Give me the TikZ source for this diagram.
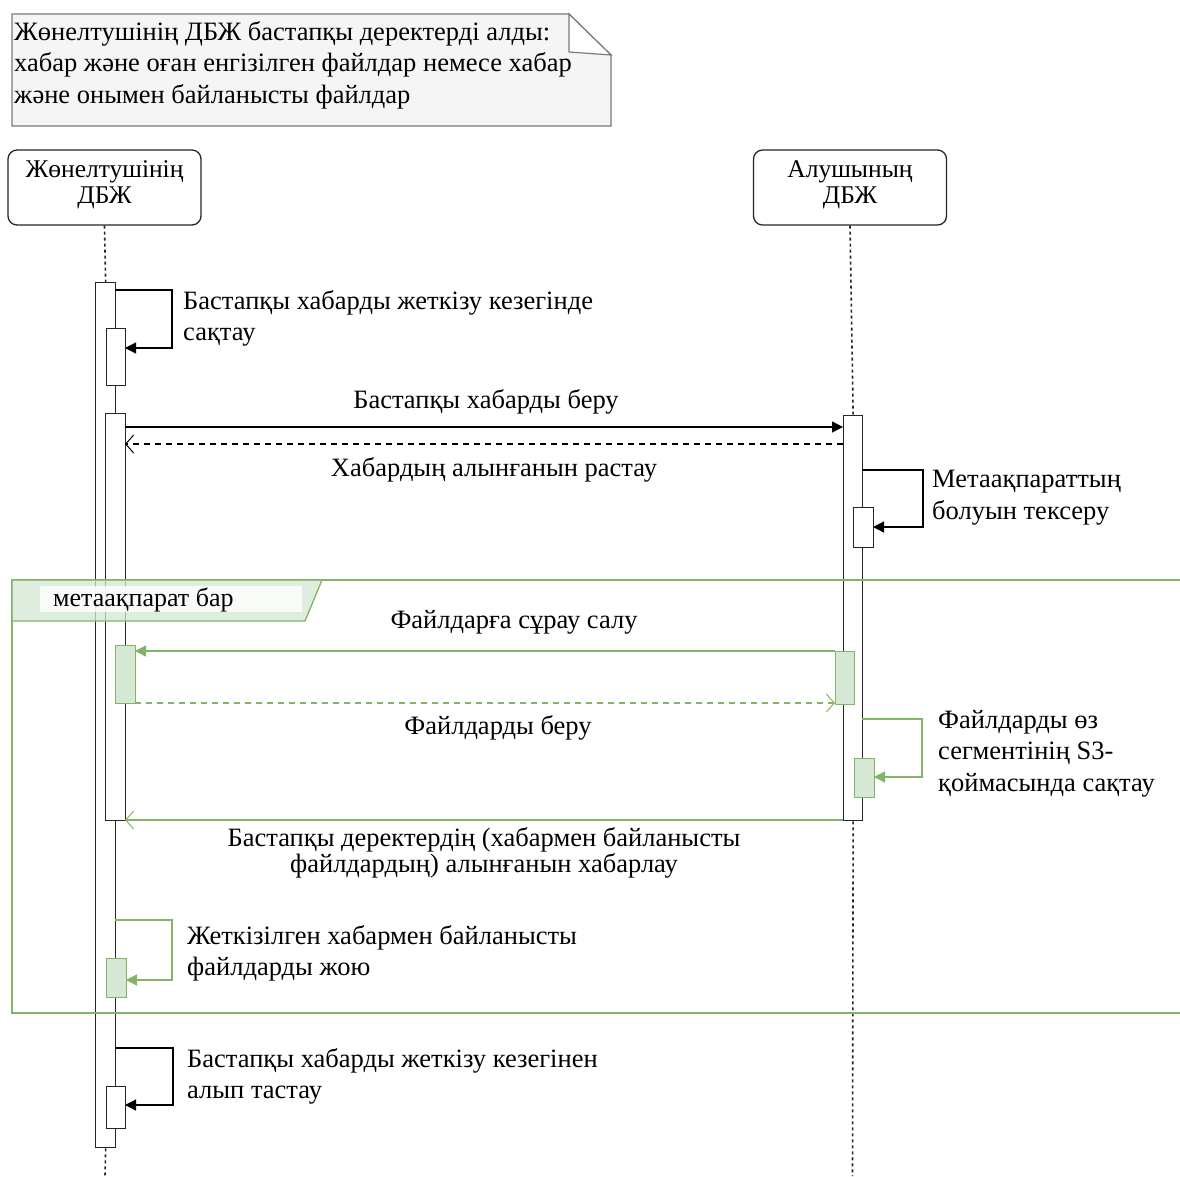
\documentclass[tikz,border=0pt]{standalone}
\usepackage{fontspec}
\setmainfont{Liberation Serif}
\usetikzlibrary{arrows.meta}
\definecolor{gstroke}{HTML}{82B366}
\definecolor{gfill}{HTML}{D5E8D4}
\definecolor{notefill}{HTML}{F5F5F5}
\definecolor{notedraw}{HTML}{7A7A7A}
\begin{document}
\begin{tikzpicture}[x=1pt,y=-1pt,
  txt/.style={font=\fontsize{26.5}{31.5}\selectfont, inner sep=0pt, align=left, anchor=north west},
  ctxt/.style={font=\fontsize{26.5}{26}\selectfont, inner sep=0pt, align=center},
  head/.style={draw=black!85, rounded corners=9pt, line width=1.3pt, minimum width=193pt, minimum height=75pt, inner sep=0pt},
  htxt/.style={font=\fontsize{25.5}{25.5}\selectfont, align=center, inner sep=0pt},
  bar/.style={draw=black!85, fill=white, line width=1.3pt, inner sep=0pt, anchor=north west},
  gbar/.style={draw=gstroke, fill=gfill, line width=1.3pt, inner sep=0pt, anchor=north west},
  life/.style={draw=black!85, line width=1.6pt, dash pattern=on 3pt off 3pt},
  msg/.style={line width=1.4pt, -{Triangle[length=11pt,width=11pt]}},
  ret/.style={line width=1.3pt, -{Straight Barb[length=8pt,width=18pt,line width=1pt]}},
  dsh/.style={dash pattern=on 6pt off 5pt},
  loopm/.style={line width=1.3pt, -{Triangle[length=11pt,width=11pt]}}
]
\useasboundingbox (0,0) rectangle (1180,1176);
\fill[white] (0,0) rectangle (1180,1176);

% note
\draw[fill=notefill, draw=notedraw, line width=1.2pt] (12,14) -- (569,14) -- (611,55) -- (611,126) -- (12,126) -- cycle;
\draw[fill=white, draw=notedraw, line width=1.2pt] (569,14) -- (569,52) -- (611,55) -- cycle;
\node[txt] (note) at (14,21) {Жөнелтушінің ДБЖ бастапқы деректерді алды:\\хабар және оған енгізілген файлдар немесе хабар\\және онымен байланысты файлдар};

% headers
\node[head] (sh) at (104.5,187.5) {};
\node[htxt] (sht) at (104.5,185) {Жөнелтушінің\\ДБЖ};
\node[head] (rh) at (850,187.5) {};
\node[htxt] (rht) at (850,185) {Алушының\\ДБЖ};

% bars
\node[bar, minimum width=20pt, minimum height=865pt] (sbar) at (95,282) {};
\node[bar, minimum width=19pt, minimum height=57pt] (sb1) at (106,328) {};
\node[bar, minimum width=20pt, minimum height=407pt] (sb2) at (105,413) {};
\node[gbar, minimum width=20pt, minimum height=58pt] (sg1) at (115,645) {};
\node[gbar, minimum width=20pt, minimum height=39pt] (sg2) at (106,958) {};
\node[bar, minimum width=19pt, minimum height=42pt] (sb3) at (106,1086) {};

\node[bar, minimum width=19pt, minimum height=405pt] (rbar) at (843,415) {};
\node[bar, minimum width=20pt, minimum height=40pt] (rb1) at (853,507) {};
\node[gbar, minimum width=19pt, minimum height=53pt] (rg1) at (835,651) {};
\node[gbar, minimum width=20pt, minimum height=39pt] (rg2) at (854,758) {};

% lifelines
\coordinate (send) at (105,1176);
\coordinate (rend) at (852.5,1176);
\draw[life] (sh.south) -- (sbar.north);
\draw[life] (sbar.south) -- (send);
\draw[life] (rh.south) -- (rbar.north);
\draw[life] (rbar.south) -- (rend);

% frame
\coordinate (ftr) at (1182,580);
\coordinate (fbr) at (1182,1013);
\coordinate (ftl) at (12,580);
\coordinate (fbl) at (12,1013);
\draw[gstroke, line width=1.3pt] (ftr) -- (ftl) -- (fbl) -- (fbr);
\draw[draw=gstroke, fill=gfill, fill opacity=0.75, line width=1.3pt] (12,580) -- (322,580) -- (305,621) -- (12,621) -- cycle;
\fill[white, opacity=0.8] (40,586) rectangle (302,612);
\node[font=\fontsize{26}{24}\selectfont, inner sep=0pt, anchor=west] (fl) at (53,600) {метаақпарат бар};

% self messages
\coordinate (s1a) at (115,290); \coordinate (s1b) at (125,348);
\draw[loopm] (s1a) -| (172,348) -- (s1b);
\node[txt] (t1) at (183,290) {Бастапқы хабарды жеткізу кезегінде\\сақтау};

\coordinate (r1a) at (862,470); \coordinate (r1b) at (873,527);
\draw[loopm] (r1a) -| (923,527) -- (r1b);
\node[txt] (t2) at (932,470) {Метаақпараттың\\болуын тексеру};

\coordinate (rg1a) at (862,719); \coordinate (rg1b) at (874,777);
\draw[loopm, gstroke] (rg1a) -| (922,777) -- (rg1b);
\node[txt] (t3) at (938,710) {Файлдарды өз\\сегментінің S3-\\қоймасында сақтау};

\coordinate (sg2a) at (115,920); \coordinate (sg2b) at (126,980);
\draw[loopm, gstroke] (sg2a) -| (172,980) -- (sg2b);
\node[txt] (t4) at (187,925) {Жеткізілген хабармен байланысты\\файлдарды жою};

\coordinate (s3a) at (115,1048); \coordinate (s3b) at (125,1105);
\draw[loopm] (s3a) -| (173,1105) -- (s3b);
\node[txt] (t5) at (187,1048) {Бастапқы хабарды жеткізу кезегінен\\алып тастау};

% messages
\coordinate (m1a) at (125,427); \coordinate (m1b) at (843,427);
\draw[msg] (m1a) -- (m1b);
\node[ctxt] (l1) at (486,402) {Бастапқы хабарды беру};

\coordinate (m2a) at (843,444); \coordinate (m2b) at (125,444);
\draw[ret, dsh] (m2a) -- (m2b);
\node[ctxt] (l2) at (494,470) {Хабардың алынғанын растау};

\coordinate (m3a) at (835,651); \coordinate (m3b) at (135,651);
\draw[msg, gstroke, line width=1.3pt] (m3a) -- (m3b);
\node[ctxt] (l3) at (514,622) {Файлдарға сұрау салу};

\coordinate (m4a) at (135,703); \coordinate (m4b) at (835,703);
\draw[ret, dsh, gstroke] (m4a) -- (m4b);
\node[ctxt] (l4) at (498,728) {Файлдарды беру};

\coordinate (m5a) at (843,820); \coordinate (m5b) at (125,820);
\draw[ret, gstroke] (m5a) -- (m5b);
\node[ctxt] (l5) at (484,853) {Бастапқы деректердің (хабармен байланысты\\файлдардың) алынғанын хабарлау};
\end{tikzpicture}
\end{document}
